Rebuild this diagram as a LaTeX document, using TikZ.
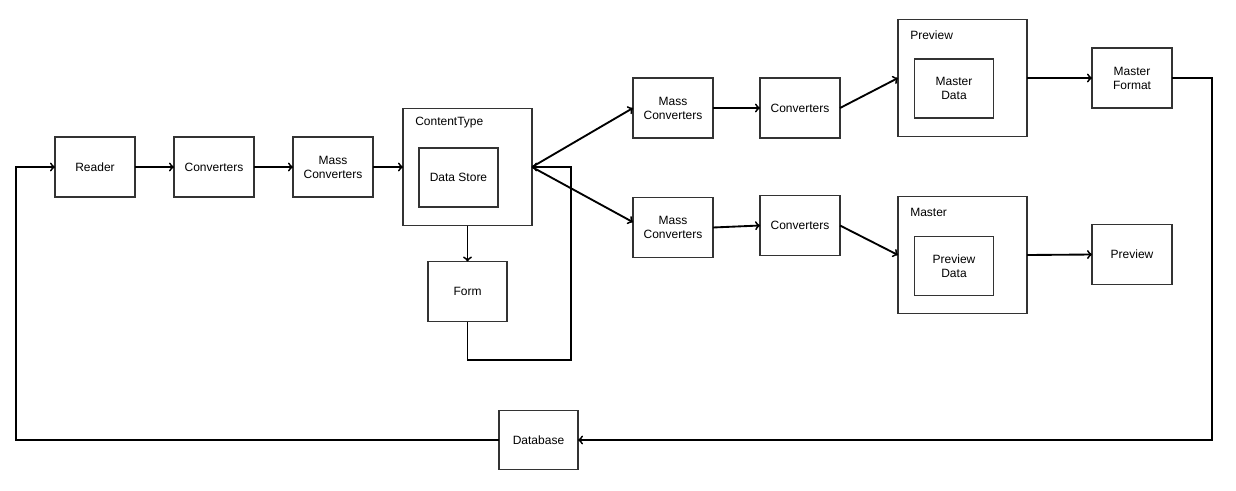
\documentclass[tikz,border=0pt]{standalone}
\usepackage{fontspec}
\setmainfont{Liberation Sans}
\usetikzlibrary{arrows, positioning, calc}
\tikzset{%
	box/.style={draw=black!80, line width=1.1pt, rectangle, minimum width=60pt,%
		minimum height=45pt, inner sep=0pt, outer sep=0pt, align=center},
	outer/.style={draw=black!80, line width=1.1pt, rectangle, minimum width=96.75pt,%
		minimum height=87.75pt, inner sep=0pt, outer sep=0pt},
	inner/.style={box, minimum width=59.25pt, minimum height=44.25pt},
	title/.style={anchor=west, inner sep=0pt},
	sel/.style={->, line width=1.4pt},
	connector/.style={line width=1.4pt}
}

\begin{document}
\begin{tikzpicture}[x=0.75pt, y=-0.75pt, font=\fontsize{9}{10.5}\selectfont, node distance=29.25pt]
	\useasboundingbox (0,0) rectangle (1236,490);

	% main chain
	\node[box] (reader) at (95,167) {Reader};
	\node[box] (conv) [right=of reader] {Converters};
	\node[box] (mass) [right=of conv] {Mass\\Converters};
	\node[outer] (ct) [right=22.5pt of mass] {};
	\node[title] (ct-t) at (415,123) {ContentType};
	\node[inner] (store) at (458.5,177.5) {Data Store};
	\node[box, minimum width=59.25pt] (form) [below=27pt of ct] {Form};

	% upper branch
	\node[box] (mass-t) at (673,108) {Mass\\Converters};
	\node[box] (conv-t) [right=35.25pt of mass-t] {Converters};
	\node[outer] (preview) at (962.5,78) {};
	\node[title] (preview-t) at (910,35) {Preview};
	\node[inner] (mdata) at (954,88.5) {Master\\Data};
	\node[box] (mformat) at (1132,78) {Master\\Format};

	% lower branch
	\node[box] (mass-b) at (673,227.5) {Mass\\Converters};
	\node[box] (conv-b) at (800,225.5) {Converters};
	\node[outer] (master) at (962.5,255) {};
	\node[title] (master-t) at (910,212) {Master};
	\node[inner] (pdata) at (954,266) {Preview\\Data};
	\node[box] (prev) at (1132,254.5) {Preview};

	\node[inner] (db) at (538.5,440) {Database};

	\coordinate (loop) at (571,360);
	\coordinate (fb-r) at (1212,440);
	\coordinate (fb-l) at (16,167);

	\draw [sel] (reader) to (conv);
	\draw [sel] (conv) to (mass);
	\draw [sel] (mass) to (ct);
	\draw [sel] (ct) to (form);
	\draw [sel] (form.south) |- (loop) |- (ct.east);

	\draw [sel] (ct.east) to (mass-t.west);
	\draw [sel] (ct.east) to ([yshift=4pt]mass-b.west);
	\draw [sel] (mass-t) to (conv-t);
	\draw [sel] (mass-b.east) to (conv-b.west);
	\draw [sel] (conv-t.east) to (preview.west);
	\draw [sel] (conv-b.east) to (master.west);
	\draw [sel] (preview) to (mformat);
	\draw [sel] (master.east) to (prev.west);

	\draw [sel] (mformat.east) -| (fb-r) -- (db.east);
	\draw [sel] (db.west) -| (fb-l) -- (reader.west);
\end{tikzpicture}
\end{document}
